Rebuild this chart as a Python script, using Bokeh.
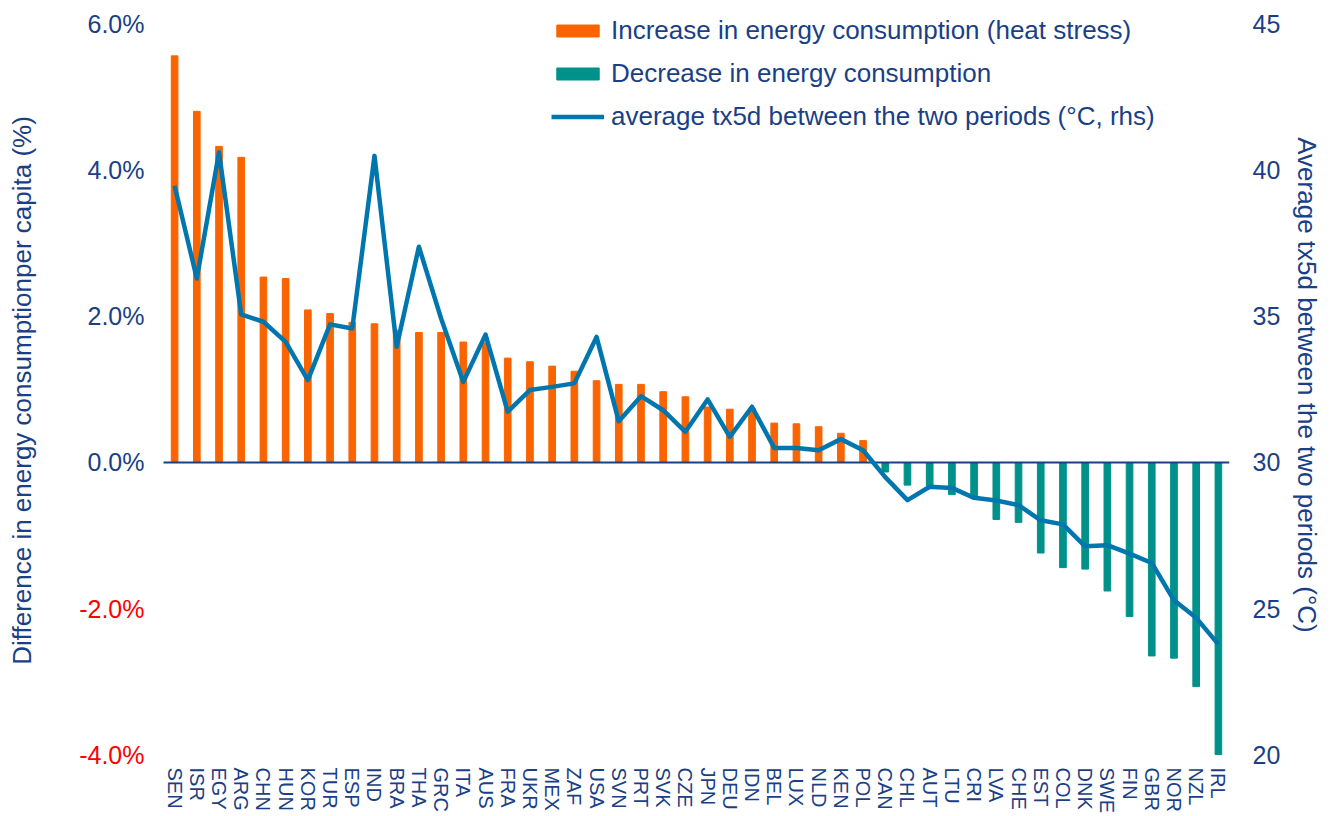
import math
from bokeh.plotting import figure
from bokeh.models import (Range1d, LinearAxis, FixedTicker, Label, Legend)
from bokeh.embed import file_html
from bokeh.resources import INLINE

countries = ["SEN", "ISR", "EGY", "ARG", "CHN", "HUN", "KOR", "TUR", "ESP", "IND",
             "BRA", "THA", "GRC", "ITA", "AUS", "FRA", "UKR", "MEX", "ZAF", "USA",
             "SVN", "PRT", "SVK", "CZE", "JPN", "DEU", "IDN", "BEL", "LUX", "NLD",
             "KEN", "POL", "CAN", "CHL", "AUT", "LTU", "CRI", "LVA", "CHE", "EST",
             "COL", "DNK", "SWE", "FIN", "GBR", "NOR", "NZL", "IRL"]

energy_diff = [5.57, 4.81, 4.33, 4.18, 2.54, 2.52, 2.09, 2.04, 1.92, 1.90,
               1.81, 1.78, 1.78, 1.65, 1.64, 1.43, 1.38, 1.32, 1.25, 1.12,
               1.07, 1.07, 0.97, 0.90, 0.76, 0.73, 0.74, 0.54, 0.53, 0.49,
               0.40, 0.30, -0.13, -0.31, -0.32, -0.44, -0.46, -0.78, -0.82, -1.24,
               -1.44, -1.46, -1.76, -2.11, -2.65, -2.68, -3.07, -4.00]

tx5d = [39.48, 36.30, 40.62, 35.07, 34.82, 34.13, 32.82, 34.73, 34.59, 40.50,
        33.96, 37.39, 34.93, 32.76, 34.38, 31.74, 32.48, 32.59, 32.71, 34.30,
        31.41, 32.27, 31.79, 31.05, 32.16, 30.88, 31.91, 30.50, 30.50, 30.42,
        30.80, 30.42, 29.50, 28.71, 29.17, 29.13, 28.79, 28.70, 28.54, 28.02,
        27.88, 27.13, 27.17, 26.88, 26.56, 25.28, 24.68, 23.77]

left_ticks = [-4, -2, 0, 2, 4, 6]
right_ticks = [20, 25, 30, 35, 40, 45]

ORANGE = "#FA6400"
TEAL = "#00928A"
LINE = "#0076AF"
NAVY = "#1A3F86"
RED = "#FF0000"
FONT = "Liberation Sans"

# ---- layout (pixels) ----
W, H = 1331, 816
AX_LEFT = 163        # where the category axis starts
FRAME_RIGHT = 1229
PLOT_TOP = 24        # pixel of top tick
PLOT_BOTTOM = 755    # pixel of bottom tick
FRAME_BOTTOM = 770   # frame extended below so labels are not clipped

n = len(countries)
xs = list(range(n))
cat_w = (FRAME_RIGHT - AX_LEFT) / n
x_start = -0.5 - AX_LEFT / cat_w
x_end = n - 0.5

lo, hi = left_ticks[0], left_ticks[-1]
ppu = (PLOT_BOTTOM - PLOT_TOP) / (hi - lo)
y_rng = Range1d(lo - (FRAME_BOTTOM - PLOT_BOTTOM) / ppu, hi + PLOT_TOP / ppu)
rlo, rhi = right_ticks[0], right_ticks[-1]
ppu_r = (PLOT_BOTTOM - PLOT_TOP) / (rhi - rlo)
t_rng = Range1d(rlo - (FRAME_BOTTOM - PLOT_BOTTOM) / ppu_r, rhi + PLOT_TOP / ppu_r)

pos_x = [i for i, v in zip(xs, energy_diff) if v >= 0]
pos_v = [v for v in energy_diff if v >= 0]
neg_x = [i for i, v in zip(xs, energy_diff) if v < 0]
neg_v = [v for v in energy_diff if v < 0]

p = figure(width=W, height=H, output_backend="svg", toolbar_location=None,
           x_range=Range1d(x_start, x_end), y_range=y_rng, y_axis_location=None,
           min_border_left=0, min_border_right=W - FRAME_RIGHT, min_border_top=0,
           min_border_bottom=H - FRAME_BOTTOM)
p.extra_y_ranges = {"temp": t_rng}
p.xgrid.visible = False
p.ygrid.visible = False
p.outline_line_color = None
p.background_fill_color = "white"
p.border_fill_color = "white"

r1 = p.vbar(x=pos_x, top=pos_v, bottom=0, width=0.3, color=ORANGE)
r2 = p.vbar(x=neg_x, top=neg_v, bottom=0, width=0.3, color=TEAL)
p.segment(x0=[-0.5], y0=[0], x1=[n - 0.5], y1=[0], line_color=NAVY, line_width=2)
r3 = p.line(x=xs, y=tx5d, y_range_name="temp", line_color=LINE, line_width=4.5,
            line_join="round")

# left value labels (red for negatives) and title
for t in left_ticks:
    p.add_layout(Label(x=AX_LEFT - 19, y=t, x_units="screen", y_units="data",
                       text=f"{t:.1f}%", text_align="right", text_baseline="middle",
                       text_color=RED if t < 0 else NAVY,
                       text_font=FONT, text_font_size="25px"))
p.add_layout(Label(x=21, y=FRAME_BOTTOM - 391, x_units="screen", y_units="screen",
                   angle=math.pi / 2, text="Difference in energy consumptionper capita (%)",
                   text_align="center", text_baseline="middle", text_color=NAVY,
                   text_font=FONT, text_font_size="26px"))

right = LinearAxis(y_range_name="temp", ticker=FixedTicker(ticks=right_ticks),
                   axis_label="Average tx5d between the two periods (°C)")
p.add_layout(right, "right")
right.axis_line_color = None
right.major_tick_line_color = None
right.minor_tick_line_color = None
right.major_tick_out = 0
right.major_tick_in = 0
right.major_label_text_font = FONT
right.major_label_text_font_size = "25px"
right.major_label_text_color = NAVY
right.axis_label_text_font = FONT
right.axis_label_text_font_size = "26px"
right.axis_label_text_color = NAVY
right.axis_label_text_font_style = "normal"
right.major_label_standoff = 23
right.axis_label_standoff = 9

xa = p.xaxis[0]
xa.ticker = FixedTicker(ticks=xs)
xa.major_label_overrides = {i: c for i, c in zip(xs, countries)}
xa.axis_line_color = None
xa.major_tick_line_color = None
xa.minor_tick_line_color = None
xa.major_tick_out = 0
xa.major_tick_in = 0
xa.major_label_orientation = "vertical"
xa.major_label_standoff = -2
xa.major_label_text_font = FONT
xa.major_label_text_font_size = "20px"
xa.major_label_text_color = NAVY

legend = Legend(items=[("Increase in energy consumption (heat stress)", [r1]),
                       ("Decrease in energy consumption", [r2]),
                       ("average tx5d between the two periods (°C, rhs)", [r3])],
                location=(551, FRAME_BOTTOM - 133))
legend.border_line_color = None
legend.background_fill_alpha = 0
legend.padding = 0
legend.margin = 0
legend.glyph_width = 53
legend.glyph_height = 15
legend.label_height = 29
legend.spacing = 12
legend.label_standoff = 7
legend.label_text_font = FONT
legend.label_text_font_size = "26px"
legend.label_text_color = NAVY
p.add_layout(legend)

open("out.html", "w").write(file_html(p, INLINE))
